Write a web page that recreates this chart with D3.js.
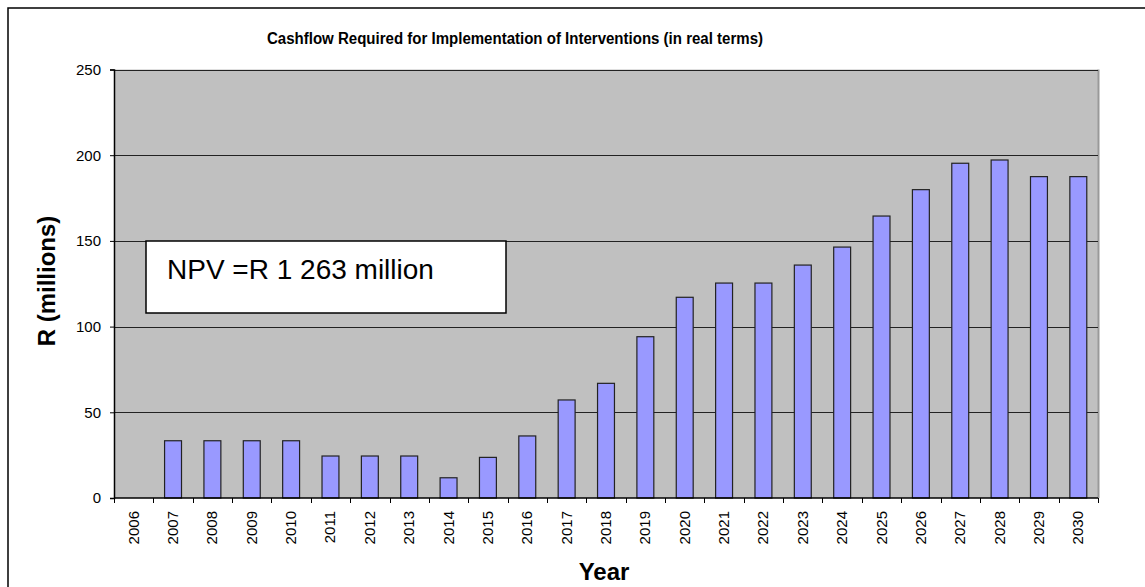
<!DOCTYPE html>
<html>
<head>
<meta charset="utf-8">
<script src="https://cdn.jsdelivr.net/npm/d3@7"></script>
<style>
  html, body { margin: 0; padding: 0; background: #fff; }
  svg { display: block; font-family: Arial, "Liberation Sans", sans-serif; }
</style>
</head>
<body>
<svg id="chart" width="1145" height="587"></svg>
<script>
// Annual cashflow (R millions, real terms)
const years = ["2006","2007","2008","2009","2010","2011","2012","2013","2014","2015",
               "2016","2017","2018","2019","2020","2021","2022","2023","2024","2025",
               "2026","2027","2028","2029","2030"];
const cashflow = [0, 33.4, 33.4, 33.4, 33.4, 24.5, 24.5, 24.5, 11.8, 23.7,
                  36.2, 57.2, 66.9, 94.1, 117.1, 125.4, 125.4, 135.9, 146.4, 164.5,
                  179.9, 195.3, 197.2, 187.5, 187.5];
const yTicks = [0, 50, 100, 150, 200, 250];

const titleText = "Cashflow Required for Implementation of Interventions (in real terms)";
const yLabel = "R (millions)";
const xLabel = "Year";
const npvNote = "NPV =R 1 263 million";

const svg = d3.select("#chart");
const plot = { left: 114, right: 1098, top: 69.5, bottom: 498 };

// outer chart frame
svg.append("rect")
  .attr("x", 8).attr("y", 8)
  .attr("width", 1200).attr("height", 700)
  .attr("fill", "#fff").attr("stroke", "#000").attr("stroke-width", 1.5);

const x = d3.scaleBand().domain(years).range([plot.left, plot.right]).padding(0);
const y = d3.scaleLinear().domain([0, 250]).range([plot.bottom, plot.top]);

// plot area background
svg.append("rect")
  .attr("x", plot.left).attr("y", plot.top)
  .attr("width", plot.right - plot.left).attr("height", plot.bottom - plot.top)
  .attr("fill", "#c0c0c0");

// right edge of plot area
svg.append("line")
  .attr("x1", plot.right + 0.5).attr("x2", plot.right + 0.5)
  .attr("y1", plot.top).attr("y2", plot.bottom)
  .attr("stroke", "#999").attr("stroke-width", 2);

// horizontal gridlines
svg.append("g").selectAll("line")
  .data(yTicks.filter(d => d > 0))
  .join("line")
  .attr("x1", plot.left).attr("x2", plot.right)
  .attr("y1", d => Math.round(y(d)) + 0.5).attr("y2", d => Math.round(y(d)) + 0.5)
  .attr("stroke", "#222").attr("stroke-width", 1);

// bars
const barW = x.bandwidth() * 0.43;
svg.append("g").selectAll("rect")
  .data(years.map((yr, i) => ({ yr, v: cashflow[i] })).filter(d => d.v > 0))
  .join("rect")
  .attr("x", d => x(d.yr) + (x.bandwidth() - barW) / 2)
  .attr("y", d => y(d.v))
  .attr("width", barW)
  .attr("height", d => y(0) - y(d.v))
  .attr("fill", "#9999ff")
  .attr("stroke", "#222").attr("stroke-width", 1.2);

// y axis
const yAxis = svg.append("g")
  .attr("transform", `translate(${plot.left},0)`)
  .call(d3.axisLeft(y).tickValues(yTicks).tickSize(4).tickPadding(9));
yAxis.select(".domain").attr("stroke", "#000").attr("stroke-width", 1.5);
yAxis.selectAll(".tick line").attr("stroke", "#000");
yAxis.selectAll(".tick text")
  .attr("font-size", 15).attr("fill", "#000")
  .attr("font-family", "Arial, 'Liberation Sans', sans-serif");

// x axis: tick marks at category boundaries
const xAxisG = svg.append("g");
xAxisG.append("line")
  .attr("x1", plot.left).attr("x2", plot.right)
  .attr("y1", plot.bottom).attr("y2", plot.bottom)
  .attr("stroke", "#000").attr("stroke-width", 1.5);
const boundaries = years.map(d => x(d)).concat([x(years[years.length - 1]) + x.bandwidth()]);
xAxisG.selectAll("line.tk")
  .data(boundaries)
  .join("line").attr("class", "tk")
  .attr("x1", d => Math.round(d) + 0.5).attr("x2", d => Math.round(d) + 0.5)
  .attr("y1", plot.bottom).attr("y2", plot.bottom + 5)
  .attr("stroke", "#000");
xAxisG.selectAll("text")
  .data(years)
  .join("text")
  .attr("transform", d => `translate(${x(d) + x.bandwidth() / 2 + 5},${plot.bottom + 13}) rotate(-90)`)
  .attr("text-anchor", "end")
  .attr("font-size", 15)
  .text(d => d);

// title
svg.append("text")
  .attr("x", 267).attr("y", 44)
  .attr("font-size", 16).attr("font-weight", "bold")
  .attr("textLength", 496).attr("lengthAdjust", "spacingAndGlyphs")
  .text(titleText);

// axis titles
svg.append("text")
  .attr("transform", `translate(55,281) rotate(-90)`)
  .attr("text-anchor", "middle")
  .attr("font-size", 24).attr("font-weight", "bold")
  .text(yLabel);

svg.append("text")
  .attr("x", 604).attr("y", 580)
  .attr("text-anchor", "middle")
  .attr("font-size", 24).attr("font-weight", "bold")
  .text(xLabel);

// NPV note box
svg.append("rect")
  .attr("x", 146).attr("y", 241)
  .attr("width", 360).attr("height", 72)
  .attr("fill", "#fff").attr("stroke", "#000").attr("stroke-width", 1.5);
svg.append("text")
  .attr("x", 167).attr("y", 279)
  .attr("font-size", 28)
  .text(npvNote);
</script>
</body>
</html>
